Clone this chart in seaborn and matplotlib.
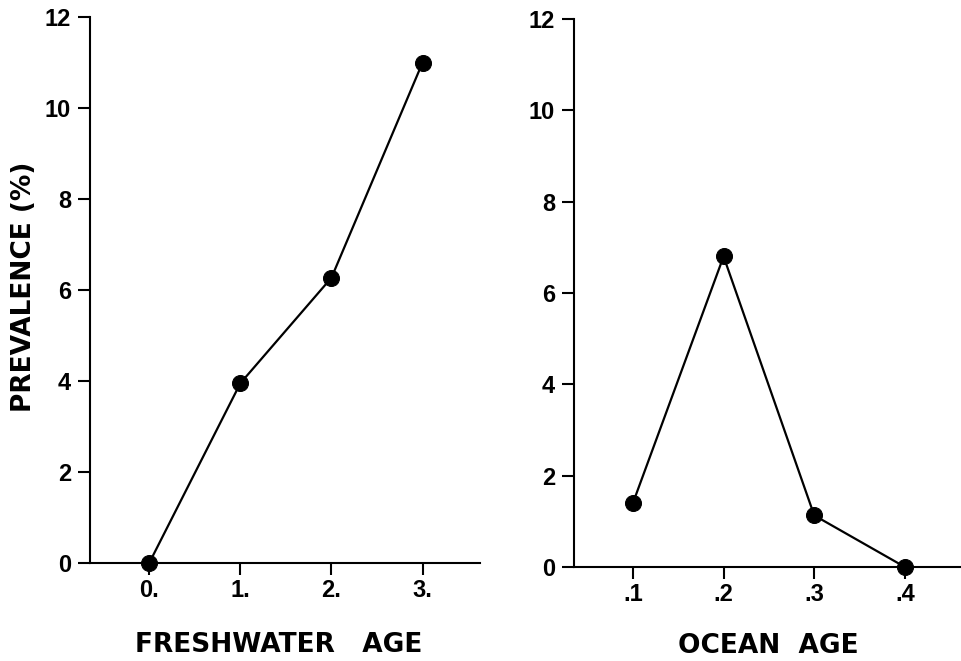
import matplotlib
matplotlib.use("Agg")
import matplotlib.pyplot as plt
import seaborn as sns
import pandas as pd

fresh_labels = ["0.", "1.", "2.", "3."]
fresh_prev = [0.0, 3.95, 6.27, 11.0]
ocean_labels = [".1", ".2", ".3", ".4"]
ocean_prev = [1.4, 6.8, 1.13, 0.0]
y_ticks = [0, 2, 4, 6, 8, 10, 12]

sns.set_style("ticks")
plt.rcParams["font.family"] = ["Liberation Sans", "DejaVu Sans"]
plt.rcParams["text.color"] = "black"
plt.rcParams["axes.labelcolor"] = "black"
plt.rcParams["xtick.color"] = "black"
plt.rcParams["ytick.color"] = "black"

fig = plt.figure(figsize=(9.62, 6.61), dpi=100)
ax1 = fig.add_axes([90/962, 1-563/661, 390/962, 546/661])
ax2 = fig.add_axes([574/962, 1-567/661, 388/962, 548/661])

def panel(ax, labels, vals, xlabel, label_x, label_y):
    df = pd.DataFrame({"pos": list(range(len(labels))), "val": vals})
    sns.lineplot(data=df, x="pos", y="val", ax=ax, color="black", linewidth=1.6,
                 marker="o", markersize=11.5, markeredgecolor="black",
                 markerfacecolor="black", clip_on=False)
    ax.set_xlim(-0.65, 3.63)
    ax.set_ylim(0, 12)
    ax.set_xticks(range(len(labels)))
    ax.set_xticklabels(labels)
    ax.set_yticks(y_ticks)
    ax.set_yticklabels([str(t) for t in y_ticks])
    for s in ["top", "right"]:
        ax.spines[s].set_visible(False)
    for s in ["left", "bottom"]:
        ax.spines[s].set_linewidth(1.5)
        ax.spines[s].set_color("black")
    ax.tick_params(axis="both", direction="out", length=8.5, width=1.5,
                   colors="black", labelsize=17, labelcolor="black")
    ax.tick_params(axis="x", pad=3)
    ax.tick_params(axis="y", pad=5)
    for lab in ax.get_xticklabels() + ax.get_yticklabels():
        lab.set_fontweight("bold")
    ax.set_xlabel(xlabel, fontsize=19, fontweight="bold", family="DejaVu Sans",
                  color="black")
    ax.xaxis.label.set_va("baseline")
    ax.xaxis.set_label_coords(label_x, label_y)
    ax.set_ylabel("")

panel(ax1, fresh_labels, fresh_prev, "FRESHWATER   AGE", 0.485, -0.163)
panel(ax2, ocean_labels, ocean_prev, "OCEAN  AGE", 0.5, -0.157)
ax1.set_ylabel("PREVALENCE (%)", fontsize=19, fontweight="bold",
               family="DejaVu Sans", color="black")
ax1.yaxis.label.set_va("center")
ax1.yaxis.set_label_coords(-0.169, 0.505)

fig.savefig("out.png", dpi=100)
